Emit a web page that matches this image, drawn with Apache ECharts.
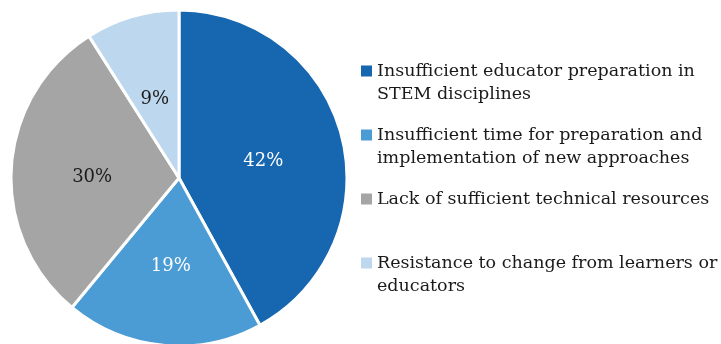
<!DOCTYPE html>
<html>
<head>
<meta charset="utf-8">
<script src="https://cdn.jsdelivr.net/npm/echarts@6/dist/echarts.min.js"></script>
<style>
  html, body { margin: 0; padding: 0; background: #fff; }
  #chart { width: 721px; height: 344px; }
</style>
</head>
<body>
<div id="chart"></div>
<script>
// Barriers to STEM teaching: share of responses
const categories = [
  'Insufficient educator preparation in\nSTEM disciplines',
  'Insufficient time for preparation and\nimplementation of new approaches',
  'Lack of sufficient technical resources',
  'Resistance to change from learners or\neducators'
];
const shares = [42, 19, 30, 9];
const sliceColors = ['#1666B0', '#4B9BD5', '#A5A5A5', '#BDD7EE'];
const labelColors = ['#ffffff', '#ffffff', '#1a1a1a', '#1a1a1a'];
const labelShift = [5, 2, 5, 5];

const FONT = 'DejaVu Serif';
const LH = 23;

const chart = echarts.init(document.getElementById('chart'), null, { renderer: 'canvas' });

const pieData = categories.map((name, i) => ({
  name,
  value: shares[i],
  itemStyle: { color: sliceColors[i] },
  label: { color: labelColors[i], offset: [0, labelShift[i]] }
}));

chart.setOption({
  animation: false,
  legend: {
    orient: 'vertical',
    left: 361,
    top: 71 - 1.5 * LH,
    padding: 0,
    itemGap: -5,
    itemWidth: 11,
    itemHeight: 11,
    itemStyle: { borderWidth: 0 },
    icon: 'rect',
    selectedMode: false,
    data: categories,
    // an empty leading line keeps the swatch level with the first text line
    formatter: (name) => name.indexOf('\n') >= 0 ? '\n' + name : '\n' + name + '\n',
    textStyle: {
      fontFamily: FONT,
      fontSize: 17.5,
      lineHeight: LH,
      color: '#1a1a1a'
    }
  },
  series: [{
    type: 'pie',
    center: [179, 178],
    radius: [0, 168],
    startAngle: 90,
    clockwise: true,
    avoidLabelOverlap: false,
    itemStyle: { borderColor: '#ffffff', borderWidth: 3 },
    label: {
      show: true,
      position: 'inside',
      formatter: '{c}%',
      fontFamily: FONT,
      fontSize: 18
    },
    labelLine: { show: false },
    emphasis: { disabled: true },
    data: pieData
  }]
});
</script>
</body>
</html>
